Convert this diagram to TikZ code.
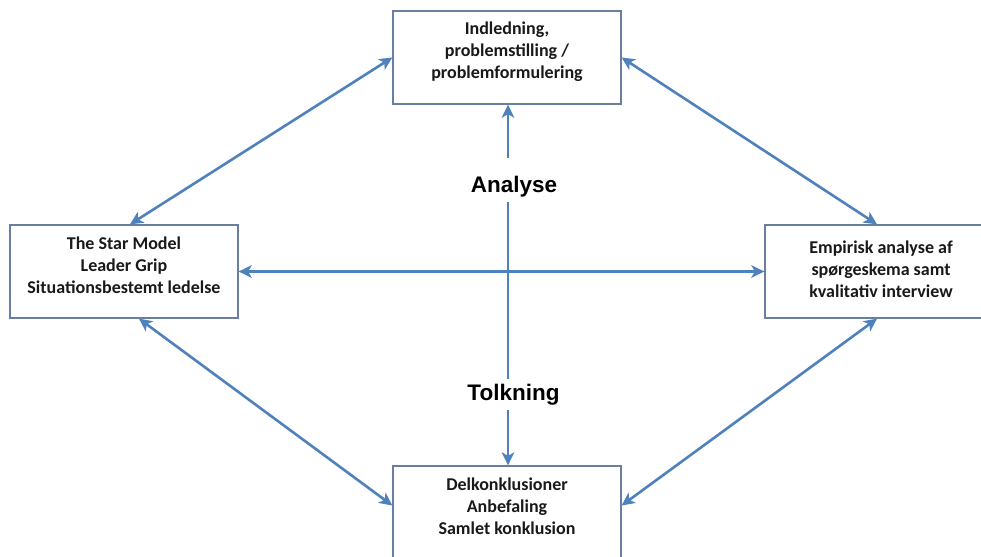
\documentclass[tikz,border=0pt]{standalone}
\usepackage{fontspec}
\setmainfont{Carlito}
\newfontfamily\labelfont{Liberation Sans}
\usetikzlibrary{arrows.meta,calc}
\definecolor{arrowblue}{RGB}{79,129,189}
\definecolor{boxline}{RGB}{105,127,160}
\definecolor{ink}{RGB}{25,25,25}
\begin{document}
\begin{tikzpicture}[x=1pt,y=-1pt,
  box/.style={draw=boxline, line width=1.3pt, fill=white,
    minimum width=228pt, minimum height=93pt, inner sep=0pt},
  boxtext/.style={font=\bfseries\fontsize{18}{22}\selectfont, text=ink,
    align=center, inner sep=0pt},
  tip/.tip={Stealth[length=13pt,width=12.5pt,inset=3.5pt]},
  link/.style={draw=arrowblue, line width=2.6pt, tip-tip},
  phase/.style={font=\labelfont\bfseries\fontsize{22.5}{26}\selectfont,
    text=black, fill=white, anchor=base, inner xsep=3pt, inner ysep=5pt,
    text height=16pt, text depth=5pt}
]
\useasboundingbox (0,0) rectangle (981,556);
\clip (0,0) rectangle (981,556);
\fill[white] (0,0) rectangle (981,556);

% frames of the four blocks
\node[box] (T) at (507,57.5) {};
\node[box] (L) at (124,271.5) {};
\node[box, minimum width=232pt] (R) at (881,271.5) {};
\node[box] (B) at (507,512.5) {};

% their contents
\node[boxtext] (Tt) at (507,52) {Indledning,\\problemstilling /\\problemformulering};
\node[boxtext] (Lt) at (124,265) {The Star Model\\Leader Grip\\Situationsbestemt ledelse};
\node[boxtext] (Rt) at (881,269) {Empirisk analyse af\\spørgeskema samt\\kvalitativ interview};
\node[boxtext] (Bt) at (507,506) {Delkonklusioner\\Anbefaling\\Samlet konklusion};

% anchor points for the diagonal links
\coordinate (Ltop) at ($(L.north)+(6,0)$);
\coordinate (Lbot) at ($(L.south)+(15,0)$);
\coordinate (Rtop) at ($(R.north)+(-4,0)$);
\coordinate (Rbot) at ($(R.south)+(-4,0)$);
\coordinate (Bw) at ($(B.west)+(0,-7)$);
\coordinate (Be) at ($(B.east)+(0,-7)$);
\coordinate (Tb) at ($(T.south)+(1,0)$);
\coordinate (Bt0) at ($(B.north)+(1,0)$);

% links
\draw[link] (T.west) -- (Ltop);
\draw[link] (T.east) -- (Rtop);
\draw[link] (Lbot) -- (Bw);
\draw[link] (Rbot) -- (Be);
\draw[link] (L.east) -- (R.west);
\draw[link] (Tb) -- (Bt0);

% phase labels laid over the vertical link
\node[phase, text height=29pt] (ana) at (514,192) {Analyse};
\node[phase] (tol) at (513.5,400) {Tolkning};
\end{tikzpicture}
\end{document}
